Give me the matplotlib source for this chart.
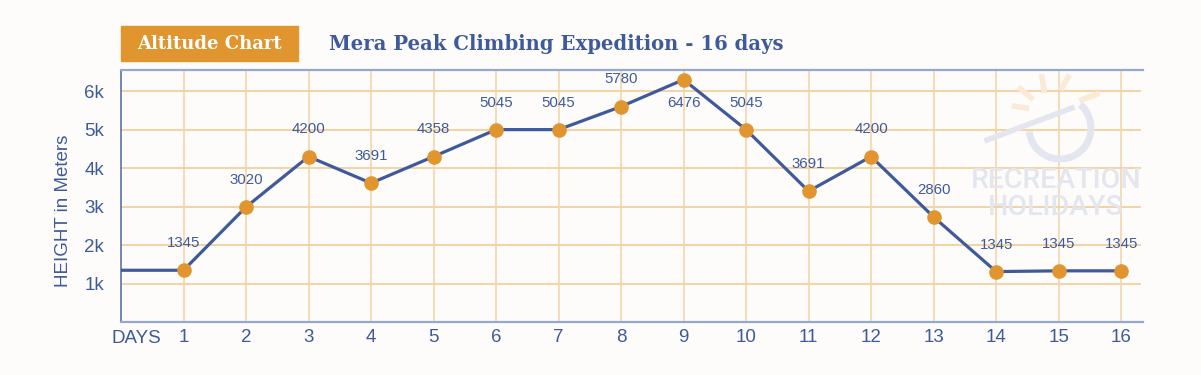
import numpy as np
import matplotlib.pyplot as plt
from matplotlib.patches import Rectangle, Arc

# values
days = list(range(1, 17))
heights = [1345, 2990, 4300, 3610, 4300, 5000, 5000, 5600, 6300, 5000, 3400, 4300, 2730, 1310, 1330, 1330]
labels = ['1345', '3020', '4200', '3691', '4358', '5045', '5045', '5780', '6476', '5045',
          '3691', '4200', '2860', '1345', '1345', '1345']
ytick_vals = [1000, 2000, 3000, 4000, 5000, 6000]
ytick_labels = ['1k', '2k', '3k', '4k', '5k', '6k']
start_height = 1345

blue = '#3F5A9B'
orange = '#E0952F'
grid_col = '#F3D3A4'
mark_col = '#E3E6EE'
ray_col = '#FBEAD5'

plt.rcParams['font.family'] = ['Liberation Sans', 'DejaVu Sans']

fig = plt.figure(figsize=(12.01, 3.75), dpi=100)
fig.patch.set_facecolor('#FDFCFB')
ax = fig.add_axes([121 / 1201, 1 - 322 / 375, (1143 - 121) / 1201, (322 - 70) / 375])
ax.set_facecolor('#FDFCFB')


def px(x, y):
    return x / 1201, 1 - y / 375


# faint watermark logo
fig.text(*px(1056, 180), 'RECREATION', color=mark_col, fontsize=20.5, fontweight='medium',
         family=['Roboto', 'Liberation Sans'], ha='center', va='center', zorder=0)
fig.text(*px(1056, 207), 'HOLIDAYS', color=mark_col, fontsize=20.5, fontweight='medium',
         family=['Roboto', 'Liberation Sans'], ha='center', va='center', zorder=0)
fig.patches.append(Arc(px(1060, 128), 62 / 1201, 62 / 375, theta1=200, theta2=75,
                       transform=fig.transFigure, color=mark_col, lw=5, zorder=0))
x0, y0 = px(987, 140)
x1, y1 = px(1072, 108)
fig.lines.append(plt.Line2D([x0, x1], [y0, y1], transform=fig.transFigure, color=mark_col, lw=4, zorder=0))
for ang, r0, r1 in [(20, 36, 52), (60, 28, 40), (100, 22, 36), (140, 22, 36), (170, 22, 34)]:
    a = np.radians(ang)
    xs = [1048 + r0 * np.cos(a), 1048 + r1 * np.cos(a)]
    ys = [112 - r0 * np.sin(a), 112 - r1 * np.sin(a)]
    fig.lines.append(plt.Line2D([v / 1201 for v in xs], [1 - v / 375 for v in ys],
                                transform=fig.transFigure, color=ray_col, lw=4, zorder=0))

ax.set_xlim(0, 16.35)
ax.set_ylim(0, 6550)

for d in days:
    ax.axvline(d, color=grid_col, lw=1.1, zorder=1)
for v in ytick_vals:
    ax.axhline(v, xmax=0.997, color=grid_col, lw=1.4, zorder=1)

ax.plot([0] + days, [start_height] + heights, color=blue, lw=2.3, zorder=3)
ax.plot(days, heights, 'o', color=orange, ms=9.5, zorder=4)

for d, h, lab in zip(days, heights, labels):
    off = -17 if d == 9 else 19.5
    ax.annotate(lab, (d, h), xytext=(0, off), textcoords='offset points', ha='center', va='center',
                fontsize=10.8, color=blue, zorder=5)

ax.set_xticks(days)
ax.set_xticklabels([str(d) for d in days])
ax.set_yticks(ytick_vals)
ax.set_yticklabels(ytick_labels)
ax.tick_params(axis='both', length=0, labelsize=13.5, labelcolor=blue)
ax.tick_params(axis='x', pad=5)
ax.tick_params(axis='y', pad=12)
ax.text(0.25, -0.03, 'DAYS', transform=ax.get_xaxis_transform(), ha='center', va='top',
        fontsize=13.5, color=blue)
ax.set_ylabel('HEIGHT in Meters', fontsize=13.5, color=blue)
ax.yaxis.set_label_coords(-0.048, 0.44)

for s in ['top', 'bottom']:
    ax.spines[s].set_color('#97A8CE')
    ax.spines[s].set_linewidth(1.6)
ax.spines['left'].set_color('#5A72AA')
ax.spines['left'].set_linewidth(1.2)
ax.spines['right'].set_visible(False)

# title box
fig.patches.append(Rectangle(px(121, 61), (298 - 121) / 1201, 35 / 375,
                             transform=fig.transFigure, color=orange, zorder=0))
fig.text(*px(209, 44), 'Altitude Chart', color='white', fontsize=13,
         family='DejaVu Serif', fontweight='bold', ha='center', va='center')
fig.text(*px(329, 44), 'Mera Peak Climbing Expedition - 16 days', color=blue,
         fontsize=14.1, family='DejaVu Serif', fontweight='bold', ha='left', va='center')

fig.savefig('out.png', dpi=100, facecolor=fig.get_facecolor())
